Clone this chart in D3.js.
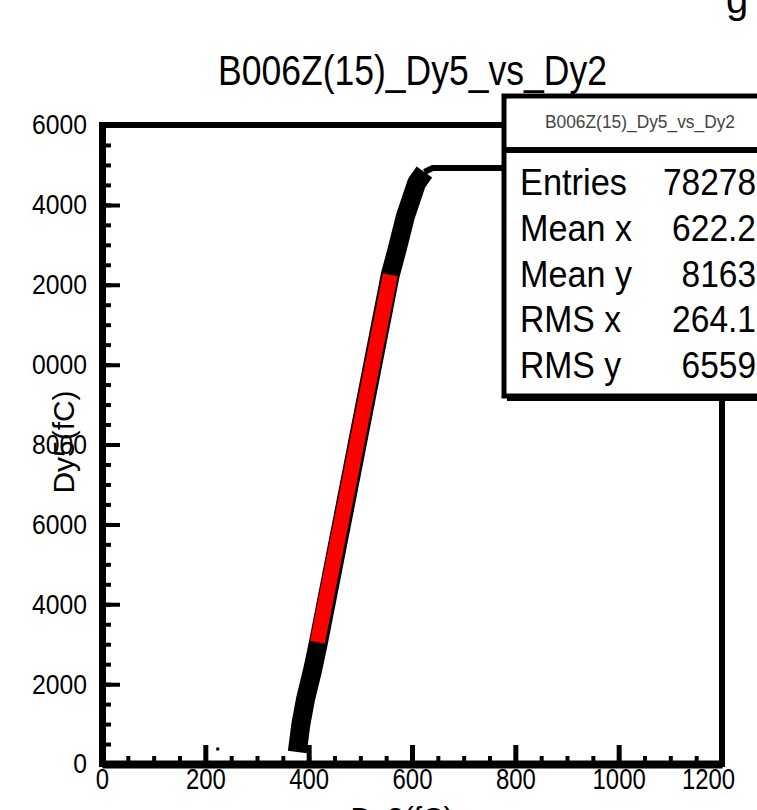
<!DOCTYPE html>
<html>
<head>
<meta charset="utf-8">
<script src="https://cdn.jsdelivr.net/npm/d3@7"></script>
<style>
    body { margin: 0; background: #fff; }
    text { font-family: "Liberation Sans", Arial, sans-serif; fill: #000; }
</style>
</head>
<body>
<div id="chart"></div>
<script>
// Dy5 vs Dy2 correlation band (profile)
const bandX = [378, 385, 394, 408, 419, 558, 571, 587, 609, 624];
const bandY = [300, 1000, 1625, 2375, 3050, 12250, 12875, 13700, 14550, 14825];

// saturation plateau of Dy5
const flatX = [624, 640, 800];
const flatY = [14825, 14925, 14925];

// linear fit (red)
const fitX = [417, 558];
const fitY = [3050, 12250];

// stray entry
const strayX = [224];
const strayY = [375];

// axis ticks
const xTicks = [0, 200, 400, 600, 800, 1000, 1200];
const yTicks = [0, 2000, 4000, 6000, 8000, 10000, 12000, 14000, 16000];

// stats box
const statsTitle = 'B006Z(15)_Dy5_vs_Dy2';
const statsLabels = ['Entries', 'Mean x', 'Mean y', 'RMS x', 'RMS y'];
const statsValues = ['78278', '622.2', '8163', '264.1', '6559'];

const W = 757, H = 810;
const plot = { left: 102, right: 722, top: 125, bottom: 764 };

const svg = d3.select('#chart')
    .append('svg')
    .attr('width', W)
    .attr('height', H);

const x = d3.scaleLinear().domain([0, 1200]).range([plot.left, plot.right]);
const y = d3.scaleLinear().domain([0, 16000]).range([plot.bottom, plot.top]);

// label glyphs are narrow in the original, squeeze them to width
function squeeze(sel, perChar) {
    sel.attr('textLength', function () { return this.textContent.length * perChar; })
        .attr('lengthAdjust', 'spacingAndGlyphs');
}

// clip for the data and for the pad edge that cuts the y labels
const defs = svg.append('defs');
defs.append('clipPath').attr('id', 'plotClip')
    .append('rect')
    .attr('x', plot.left).attr('y', plot.top)
    .attr('width', plot.right - plot.left).attr('height', plot.bottom - plot.top);
defs.append('clipPath').attr('id', 'padClip')
    .append('rect')
    .attr('x', 31.5).attr('y', 0).attr('width', W).attr('height', H);

// corner glyph of the canvas title above
svg.append('text')
    .attr('x', 737).attr('y', 13)
    .attr('text-anchor', 'middle')
    .style('font-size', '40px')
    .text('g');

// histogram title
svg.append('text')
    .attr('x', 218).attr('y', 85)
    .style('font-size', '42px')
    .attr('textLength', 389)
    .attr('lengthAdjust', 'spacingAndGlyphs')
    .text('B006Z(15)_Dy5_vs_Dy2');

// frame
svg.append('rect')
    .attr('x', plot.left).attr('y', plot.top)
    .attr('width', plot.right - plot.left).attr('height', plot.bottom - plot.top)
    .attr('fill', 'none')
    .attr('stroke', '#000')
    .attr('stroke-width', 6);

// data
const marks = svg.append('g').attr('clip-path', 'url(#plotClip)');
const line = d3.line().x(d => x(d[0])).y(d => y(d[1]));

marks.append('path')
    .datum(flatX.map((v, i) => [v, flatY[i]]))
    .attr('d', line)
    .attr('fill', 'none')
    .attr('stroke', '#000')
    .attr('stroke-width', 6);

marks.append('path')
    .datum(bandX.map((v, i) => [v, bandY[i]]))
    .attr('d', line)
    .attr('fill', 'none')
    .attr('stroke', '#000')
    .attr('stroke-width', 19)
    .attr('stroke-linejoin', 'round');

marks.append('path')
    .datum(fitX.map((v, i) => [v, fitY[i]]))
    .attr('d', line)
    .attr('fill', 'none')
    .attr('stroke', '#ff0000')
    .attr('stroke-width', 15);

marks.selectAll('rect.stray')
    .data(strayX.map((v, i) => [v, strayY[i]]))
    .enter()
    .append('rect')
    .attr('class', 'stray')
    .attr('x', d => x(d[0]) - 1.5)
    .attr('y', d => y(d[1]) - 1.5)
    .attr('width', 3).attr('height', 3)
    .attr('fill', '#000');

// y axis, ticks pointing into the frame
const yMinor = d3.range(0, 16001, 500);
svg.append('g')
    .attr('transform', `translate(${plot.left},0)`)
    .call(d3.axisLeft(y).tickValues(yMinor).tickSizeInner(-9).tickSizeOuter(0).tickFormat(''))
    .call(g => g.select('.domain').remove())
    .call(g => g.selectAll('line').attr('stroke-width', 4));

const yAxis = svg.append('g')
    .attr('clip-path', 'url(#padClip)')
    .append('g')
    .attr('transform', `translate(${plot.left},0)`)
    .call(d3.axisLeft(y).tickValues(yTicks).tickSizeInner(-18).tickSizeOuter(0).tickPadding(15).tickFormat(d3.format('d')));
yAxis.select('.domain').attr('stroke-width', 7);
yAxis.selectAll('line').attr('stroke-width', 4);
yAxis.selectAll('text').style('font-size', '28px').attr('fill', '#000').call(squeeze, 13.75);

// x axis
const xMinor = d3.range(0, 1201, 50);
svg.append('g')
    .attr('transform', `translate(0,${plot.bottom})`)
    .call(d3.axisBottom(x).tickValues(xMinor).tickSizeInner(-8).tickSizeOuter(0).tickFormat(''))
    .call(g => g.select('.domain').remove())
    .call(g => g.selectAll('line').attr('stroke-width', 4));

const xAxis = svg.append('g')
    .attr('transform', `translate(0,${plot.bottom})`)
    .call(d3.axisBottom(x).tickValues(xTicks).tickSizeInner(-19).tickSizeOuter(0).tickPadding(4).tickFormat(d3.format('d')));
xAxis.select('.domain').attr('stroke-width', 8);
xAxis.selectAll('line').attr('stroke-width', 5);
xAxis.selectAll('text').style('font-size', '29px').attr('fill', '#000').call(squeeze, 13.3);
// last label is pulled in from the pad edge
xAxis.selectAll('.tick text').filter(d => d === 1200).attr('dx', -14);

// axis titles
svg.append('text')
    .attr('transform', 'translate(74,442) rotate(-90)')
    .attr('text-anchor', 'middle')
    .style('font-size', '29px')
    .attr('textLength', 103)
    .attr('lengthAdjust', 'spacingAndGlyphs')
    .text('Dy5(fC)');

svg.append('text')
    .attr('x', 402).attr('y', 828)
    .attr('text-anchor', 'middle')
    .style('font-size', '29px')
    .attr('textLength', 103)
    .attr('lengthAdjust', 'spacingAndGlyphs')
    .text('Dy2(fC)');

// stats box
const box = { x: 504, y: 96, w: 330, h: 300 };
svg.append('rect')
    .attr('x', box.x + 3).attr('y', box.y + 5)
    .attr('width', box.w).attr('height', box.h)
    .attr('fill', '#000');
svg.append('rect')
    .attr('x', box.x).attr('y', box.y)
    .attr('width', box.w).attr('height', box.h)
    .attr('fill', '#fff')
    .attr('stroke', '#000')
    .attr('stroke-width', 5);
svg.append('line')
    .attr('x1', box.x).attr('x2', box.x + box.w)
    .attr('y1', 150).attr('y2', 150)
    .attr('stroke', '#000')
    .attr('stroke-width', 6);

svg.append('text')
    .attr('x', 640).attr('y', 128)
    .attr('text-anchor', 'middle')
    .style('font-size', '18px')
    .style('fill', '#444')
    .attr('textLength', 190)
    .attr('lengthAdjust', 'spacingAndGlyphs')
    .text(statsTitle);

const rowY = d3.scalePoint().domain(statsLabels).range([195, 378]);
const labelW = [107, 112, 112, 101, 101];

svg.selectAll('text.statLabel')
    .data(statsLabels)
    .enter()
    .append('text')
    .attr('class', 'statLabel')
    .attr('x', 520)
    .attr('y', d => rowY(d))
    .style('font-size', '37px')
    .attr('textLength', (d, i) => labelW[i])
    .attr('lengthAdjust', 'spacingAndGlyphs')
    .text(d => d);

svg.selectAll('text.statValue')
    .data(statsValues)
    .enter()
    .append('text')
    .attr('class', 'statValue')
    .attr('x', 756)
    .attr('y', (d, i) => rowY(statsLabels[i]))
    .attr('text-anchor', 'end')
    .style('font-size', '37px')
    .attr('textLength', d => d.replace('.', '').length * 18.6 + (d.includes('.') ? 9.5 : 0))
    .attr('lengthAdjust', 'spacingAndGlyphs')
    .text(d => d);
</script>
</body>
</html>
